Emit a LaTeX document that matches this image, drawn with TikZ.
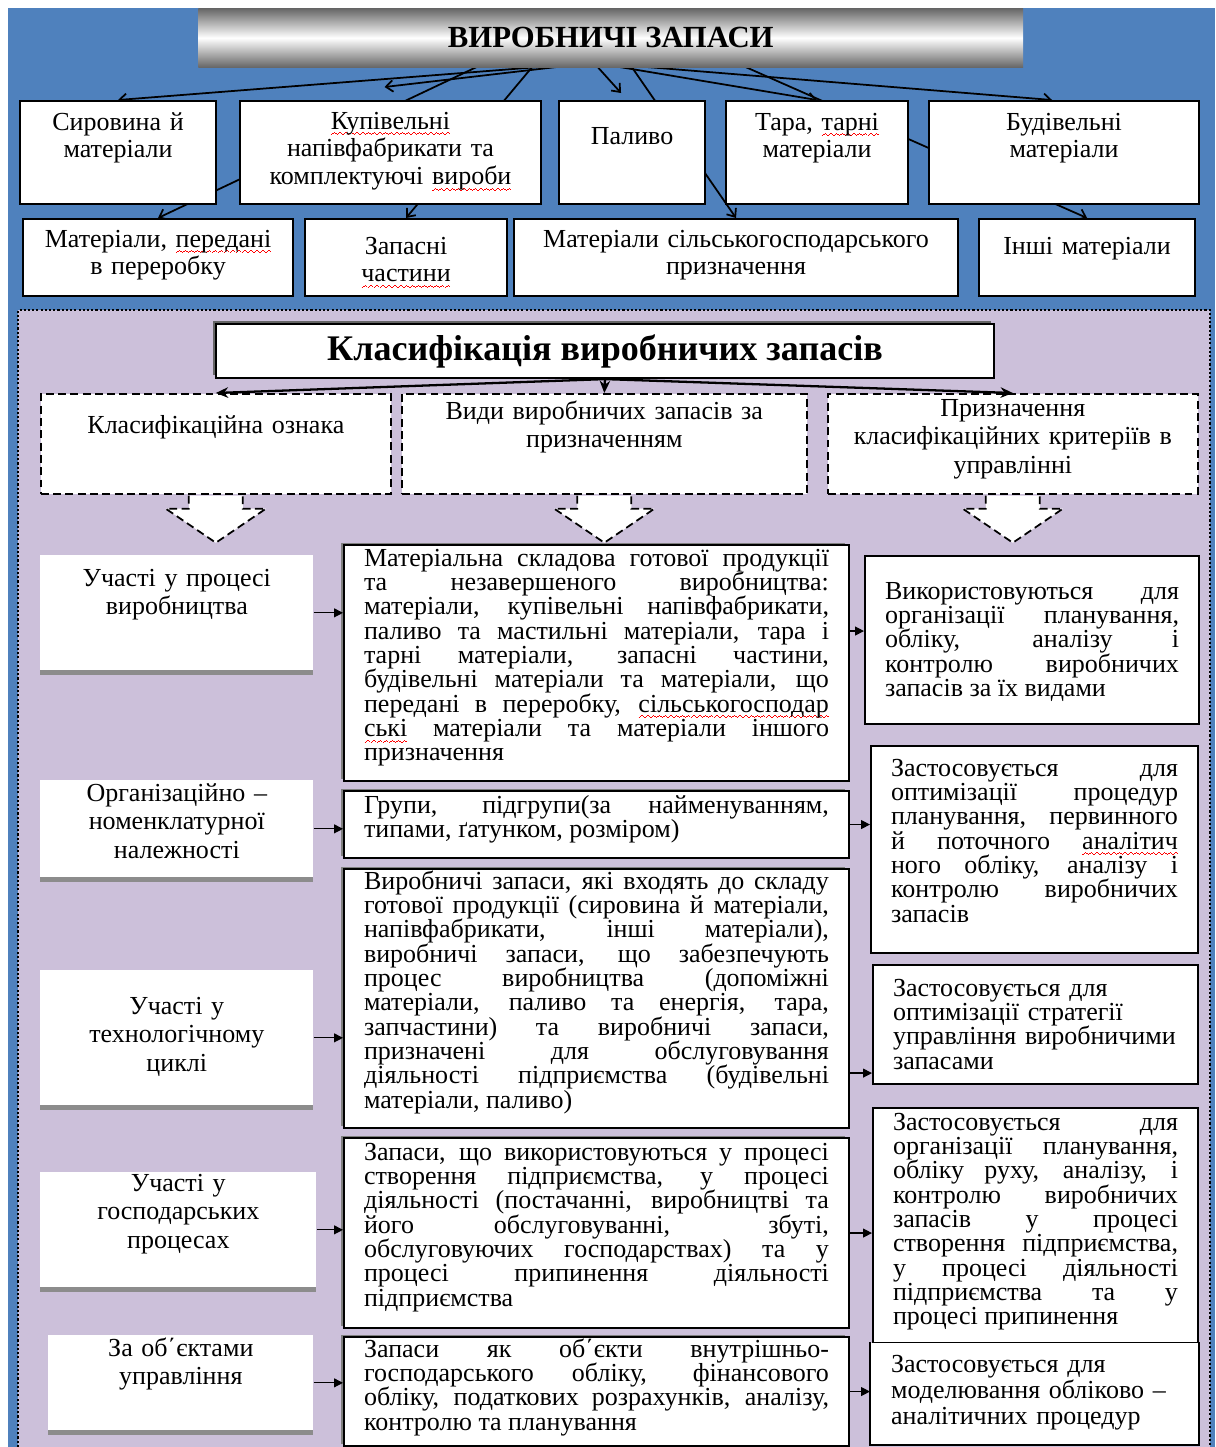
\documentclass[tikz,border=0pt]{standalone}
\usepackage{fontspec}
\setmainfont{Liberation Serif}
\usepackage{tikz}
\usetikzlibrary{arrows.meta, calc, shadows}
\tolerance=10000
\hbadness=10000

\definecolor{stockblue}{RGB}{79,129,189}
\definecolor{stocklilac}{RGB}{204,192,218}
% red wave of the spell checker
\newcommand{\spell}[1]{\leavevmode\setbox0=\hbox{#1}\rlap{\smash{\textcolor{red}{\hbox to \wd0{\xleaders\hbox{\rule[-3.6pt]{0.8pt}{0.6pt}\rule[-3.0pt]{0.8pt}{0.6pt}\rule[-2.4pt]{0.8pt}{0.6pt}\rule[-3.0pt]{0.8pt}{0.6pt}}\hfill}}}}#1}

\pgfdeclarelayer{back}
\pgfdeclarelayer{links}
\pgfsetlayers{back,links,main}

\tikzset{
  grpbox/.style={draw, line width=1.2pt, fill=white, anchor=north west, align=center, inner xsep=0.1cm, inner ysep=0pt, font=\fontsize{14.8}{15.9}\selectfont},
  critbox/.style={grpbox, line width=1pt, dash pattern=on 4.5pt off 2.5pt, font=\fontsize{14.8}{16}\selectfont},
  signbox/.style={fill=white, anchor=north west, align=center, inner xsep=0.1cm, inner ysep=0pt, font=\fontsize{14.8}{16.2}\selectfont, drop shadow={shadow xshift=0cm, shadow yshift=-0.1cm, fill=black!45, opacity=1}},
  kindbox/.style={draw, line width=1.2pt, fill=white, anchor=north west, align=justify, inner xsep=0.4cm, inner ysep=0pt, font=\fontsize{14.8}{13.85}\selectfont, drop shadow={shadow xshift=-0.07cm, shadow yshift=0.05cm, fill=black!50, opacity=1}},
  aimbox/.style={draw, line width=1.2pt, fill=white, anchor=north west, align=justify, inner xsep=0.4cm, inner ysep=0pt, font=\fontsize{14.8}{13.85}\selectfont},
  toparrow/.style={line width=1pt, -{Straight Barb[length=4pt,width=6.5pt]}},
  classarrow/.style={line width=1.3pt, -{Stealth[length=7pt,width=6pt]}},
  sidearrow/.style={line width=0.7pt, -{Triangle[length=5pt,width=5pt]}},
  hollowarrow/.style={draw, dash pattern=on 4.5pt off 2.5pt, line width=1pt, fill=white},
}

\begin{document}
\begin{tikzpicture}[x=0.02cm, y=-0.02cm]
\useasboundingbox (0,0) rectangle (1215,1447);

\begin{pgfonlayer}{back}
  \fill[stockblue] (8,8) rectangle (1215,1447);
  \fill[stocklilac] (18,310) rectangle (1210,1447);
  \draw[line width=1.2pt, dash pattern=on 1.2pt off 1.2pt] (18,1447) -- (18,310) -- (1210,310) -- (1210,1447);
\end{pgfonlayer}

% groups of stocks
\node[anchor=north west, minimum width=16.5cm, minimum height=1.18cm, inner sep=0pt, top color=black!60, bottom color=black!60, middle color=white, font=\fontsize{17.5}{20}\selectfont\bfseries] (stock) at (198,8) {ВИРОБНИЧІ ЗАПАСИ};

\node[grpbox, text width=3.72cm, text height=0.58cm, text depth=1.48cm] (syr) at (19,100) {Сировина й\\матеріали};
\node[grpbox, text width=5.82cm, text height=0.56cm, text depth=1.50cm] (kup) at (239,100) {\spell{Купівельні}\\напівфабрикати та\\комплектуючі \spell{вироби}};
\node[grpbox, text width=2.72cm, text height=0.86cm, text depth=1.20cm] (pal) at (558,100) {Паливо};
\node[grpbox, text width=3.44cm, text height=0.58cm, text depth=1.48cm] (tara) at (725,100) {Тара, \spell{тарні}\\матеріали};
\node[grpbox, text width=5.20cm, text height=0.58cm, text depth=1.48cm] (bud) at (928,100) {Будівельні\\матеріали};

\node[grpbox, text width=5.20cm, text height=0.56cm, text depth=0.98cm] (per) at (22,218) {Матеріали, \spell{передані}\\в переробку};
\node[grpbox, text width=3.84cm, text height=0.70cm, text depth=0.84cm] (zap) at (304,218) {Запасні\\\spell{частини}};
\node[grpbox, text width=8.68cm, text height=0.56cm, text depth=0.98cm] (sil) at (513,218) {Матеріали сільськогосподарського\\призначення};
\node[grpbox, text width=4.12cm, text height=0.70cm, text depth=0.84cm] (insh) at (978,218) {Інші матеріали};

\begin{pgfonlayer}{links}
  \coordinate (hub) at ($(stock.south)+(-17,-5)$);
  \draw[toparrow] (hub) -- (syr.north);
  \draw[toparrow] (hub) -- ($(kup.north)+(-6,-13)$);
  \draw[toparrow] (hub) -- ($(pal.north)+(-11,-7)$);
  \draw[toparrow] (hub) -- (tara.north);
  \draw[toparrow] (hub) -- ($(bud.north)+(-12,0)$);
  \draw[toparrow] ($(stock.south)+(-125,-5)$) -- (per.north);
  \draw[toparrow] ($(stock.south)+(-75,-5)$) -- (zap.north);
  \draw[toparrow] ($(stock.south)+(18,-5)$) -- (sil.north);
  \draw[toparrow] ($(stock.south)+(125,-5)$) -- (insh.north);
\end{pgfonlayer}

% classification
\node[draw, line width=1.2pt, fill=white, anchor=north west, minimum width=15.56cm, minimum height=1.08cm, inner sep=0pt, font=\fontsize{20.5}{24}\selectfont\bfseries, drop shadow={shadow xshift=-0.06cm, shadow yshift=0.06cm, fill=black!60, opacity=1}] (klas) at (215,323) {Класифікація виробничих запасів};

\node[critbox, text width=6.8cm, text height=0.80cm, text depth=1.20cm] (ozn) at (40,393) {Класифікаційна ознака};
\node[critbox, text width=7.9cm, text height=0.52cm, text depth=1.48cm] (vyd) at (401,393) {Види виробничих запасів за\\призначенням};
\node[critbox, text width=7.2cm, text height=0.46cm, text depth=1.54cm] (pryz) at (827,393) {Призначення\\класифікаційних критеріїв в\\управлінні};

\draw[classarrow] (klas.south) -- (ozn.north);
\draw[classarrow] (klas.south) -- (vyd.north);
\draw[classarrow] (klas.south) -- (pryz.north);

\foreach \c in {ozn, vyd, pryz}
  \draw[hollowarrow] ($(\c.south)+(-27,1)$) -- ++(0,13) -- ++(-23,0) -- ($(\c.south)+(0,48)$)
    -- ($(\c.south)+(50,14)$) -- ++(-23,0) -- ($(\c.south)+(27,1)$);

% signs
\node[signbox, text width=5.26cm, text height=0.62cm, text depth=1.68cm] (l1) at (40,555) {Участі у процесі\\виробництва};
\node[signbox, text width=5.26cm, text height=0.42cm, text depth=1.52cm] (l2) at (40,780) {Організаційно –\\номенклатурної\\належності};
\node[signbox, text width=5.26cm, text height=0.88cm, text depth=1.82cm] (l3) at (40,970) {Участі у\\технологічному\\циклі};
\node[signbox, text width=5.32cm, text height=0.38cm, text depth=1.92cm] (l4) at (40,1172) {Участі у\\господарських\\процесах};
\node[signbox, text width=5.10cm, text height=0.42cm, text depth=1.48cm] (l5) at (48,1335) {За об΄єктами\\управління};

% kinds
\node[kindbox, text width=9.3cm, text height=0.42cm, text depth=4.30cm] (m1) at (343,544) {Матеріальна складова готової продукції\linebreak та незавершеного виробництва:\linebreak матеріали, купівельні напівфабрикати,\linebreak паливо та мастильні матеріали, тара і\linebreak тарні матеріали, запасні частини,\linebreak будівельні матеріали та матеріали, що\linebreak передані в переробку, \spell{сільськогосподар}\linebreak \spell{ські} матеріали та матеріали іншого\linebreak призначення};
\node[kindbox, text width=9.3cm, text height=0.44cm, text depth=0.90cm] (m2) at (343,790) {Групи, підгрупи(за найменуванням,\linebreak типами, ґатунком, розміром)};
\node[kindbox, text width=9.3cm, text height=0.40cm, text depth=4.78cm] (m3) at (343,868) {Виробничі запаси, які входять до складу\linebreak готової продукції (сировина й матеріали,\linebreak напівфабрикати, інші матеріали),\linebreak виробничі запаси, що забезпечують\linebreak процес виробництва (допоміжні\linebreak матеріали, паливо та енергія, тара,\linebreak запчастини) та виробничі запаси,\linebreak призначені для обслуговування\linebreak діяльності підприємства (будівельні\linebreak матеріали, паливо)};
\node[kindbox, text width=9.3cm, text height=0.44cm, text depth=3.36cm] (m4) at (343,1137) {Запаси, що використовуються у процесі\linebreak створення підприємства, у процесі\linebreak діяльності (постачанні, виробництві та\linebreak його обслуговуванні, збуті,\linebreak обслуговуючих господарствах) та у\linebreak процесі припинення діяльності\linebreak підприємства};
\node[kindbox, text width=9.3cm, text height=0.40cm, text depth=1.78cm] (m5) at (343,1336) {Запаси як об΄єкти внутрішньо-\linebreak господарського обліку, фінансового\linebreak обліку, податкових розрахунків, аналізу,\linebreak контролю та планування};

% purposes
\node[aimbox, text width=5.88cm, text height=0.86cm, text depth=2.50cm] (r1) at (864,555) {Використовуються для\linebreak організації планування,\linebreak обліку, аналізу і\linebreak контролю виробничих\linebreak запасів за їх видами};
\node[aimbox, text width=5.74cm, text height=0.60cm, text depth=3.54cm] (r2) at (870,745) {Застосовується для\linebreak оптимізації процедур\linebreak планування, первинного\linebreak й поточного \spell{аналітич}\linebreak ного обліку, аналізу і\linebreak контролю виробничих\linebreak запасів};
\node[aimbox, align=left, text width=5.70cm, text height=0.62cm, text depth=1.76cm] (r3) at (872,964) {Застосовується для\\оптимізації стратегії\\управління виробничими\\запасами};
\node[aimbox, text width=5.70cm, text height=0.44cm, text depth=4.26cm] (r4) at (872,1107) {Застосовується для\linebreak організації планування,\linebreak обліку руху, аналізу, і\linebreak контролю виробничих\linebreak запасів у процесі\linebreak створення підприємства,\linebreak у процесі діяльності\linebreak підприємства та у\linebreak процесі припинення};
\node[aimbox, draw=none, align=left, text width=5.74cm, text height=0.58cm, text depth=1.44cm, font=\fontsize{14.8}{15}\selectfont] (r5) at (870,1342) {Застосовується для\\моделювання обліково –\\аналітичних процедур};
\draw[line width=1.2pt] (r5.north west) -- (r5.south west) -- (r5.south east) -- (r5.north east);

% links between columns
\draw[sidearrow] (l1.east) -- (l1.east -| m1.west);
\draw[sidearrow] (l2.east) -- (l2.east -| m2.west);
\draw[sidearrow] (l3.east) -- (l3.east -| m3.west);
\draw[sidearrow] (l4.east) -- (l4.east -| m4.west);
\draw[sidearrow] (l5.east) -- (l5.east -| m5.west);

\coordinate (r1in) at ($(r1.west)+(0,-9)$);
\coordinate (r3in) at ($(r3.south west)+(0,-12)$);
\draw[sidearrow] (m1.east |- r1in) -- (r1in);
\draw[sidearrow] (m2.east) -- (m2.east -| r2.west);
\draw[sidearrow] (m3.east |- r3in) -- (r3in);
\draw[sidearrow] (m4.east) -- (m4.east -| r4.west);
\draw[sidearrow] (m5.east) -- (m5.east -| r5.west);
\end{tikzpicture}
\end{document}
